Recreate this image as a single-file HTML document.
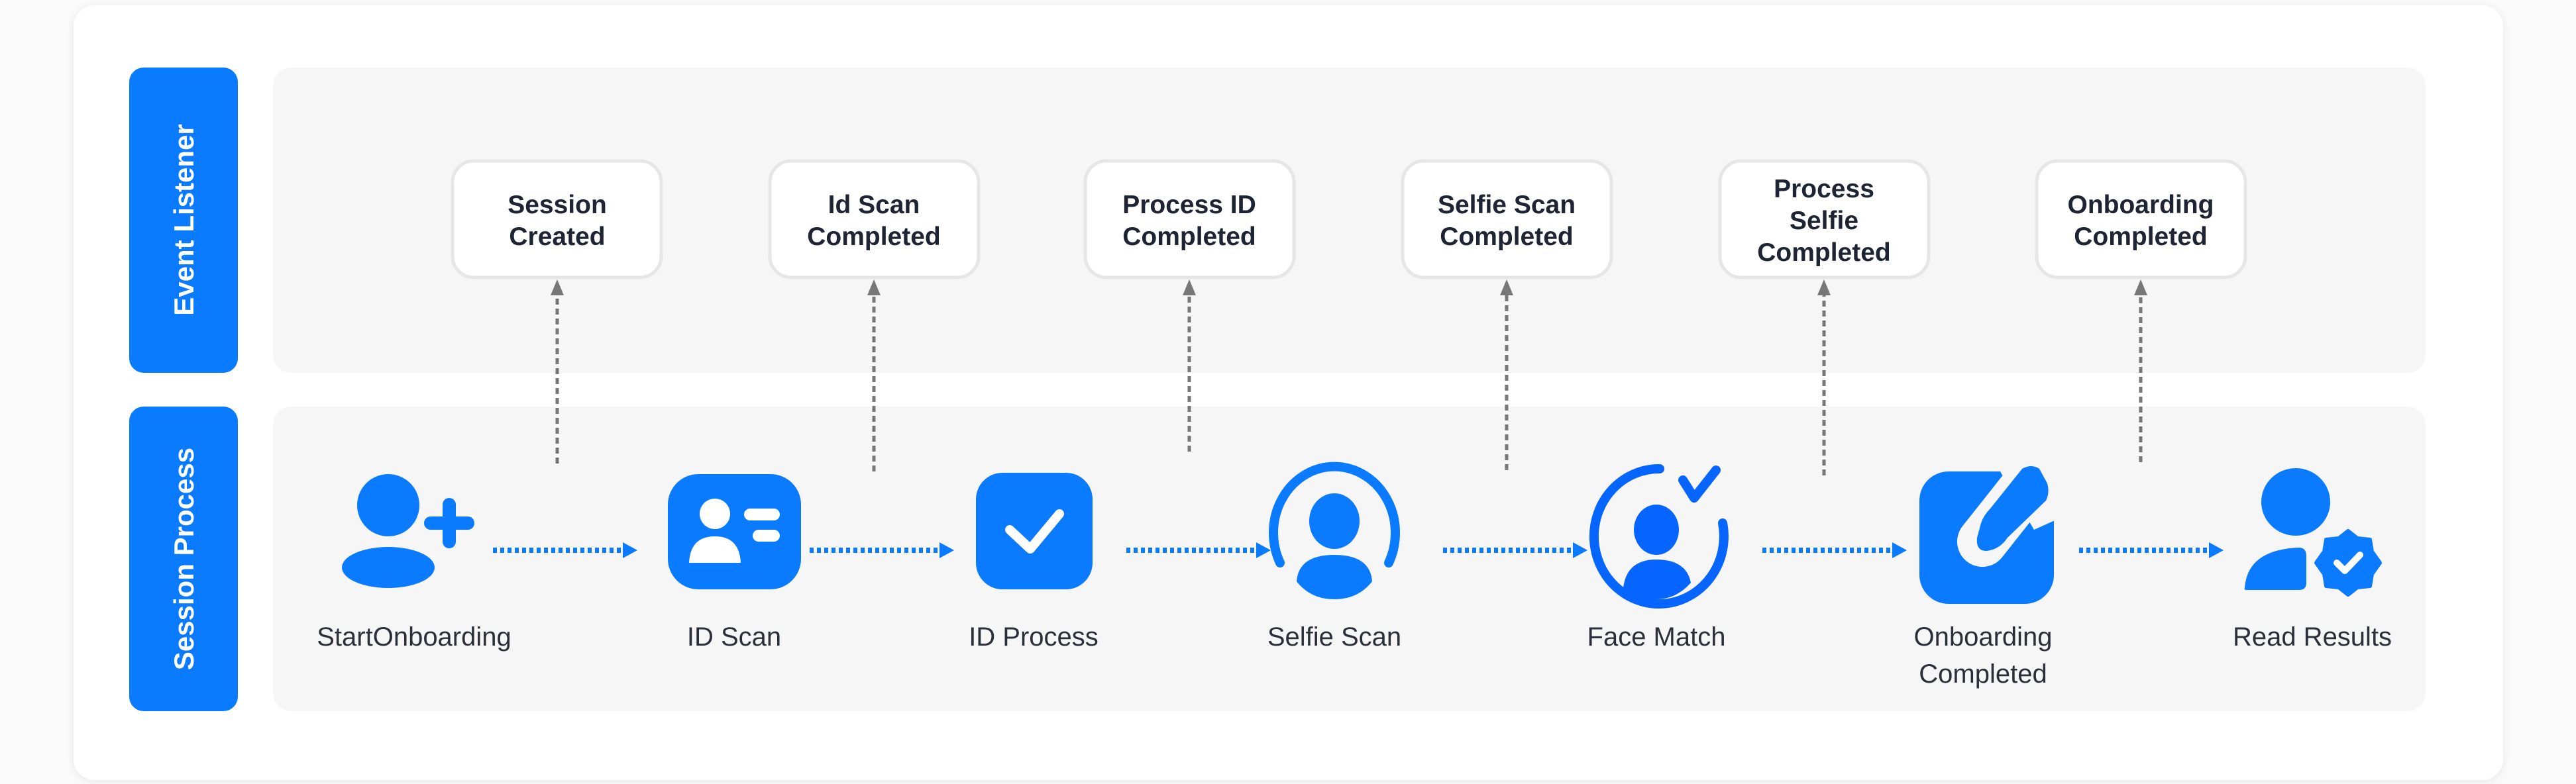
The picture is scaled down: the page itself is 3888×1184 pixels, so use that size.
<!DOCTYPE html>
<html><head><meta charset="utf-8"><style>
html,body{margin:0;padding:0;background:#fafafa;}
svg{display:block;}
</style></head><body>
<svg width="3888" height="1184" viewBox="0 0 3888 1184" xmlns="http://www.w3.org/2000/svg" font-family="Liberation Sans, sans-serif">
<defs>
<filter id="sh" x="-5%" y="-5%" width="110%" height="110%"><feDropShadow dx="0" dy="2" stdDeviation="6" flood-color="#000" flood-opacity="0.08"/></filter>
</defs>
<rect x="0" y="0" width="3888" height="1184" fill="#fafafa"/>
<rect x="111" y="8" width="3667" height="1170" rx="32" fill="#ffffff" filter="url(#sh)"/>
<rect x="195" y="102" width="164" height="461" rx="22" fill="#0a7aff"/>
<rect x="195" y="614" width="164" height="460" rx="22" fill="#0a7aff"/>
<text transform="translate(292,332) rotate(-90)" text-anchor="middle" fill="#fff" font-weight="bold" font-size="42">Event Listener</text>
<text transform="translate(292,844) rotate(-90)" text-anchor="middle" fill="#fff" font-weight="bold" font-size="42">Session Process</text>
<rect x="412" y="102" width="3249" height="461" rx="28" fill="#f6f6f6"/>
<rect x="412" y="614" width="3249" height="460" rx="28" fill="#f6f6f6"/>
<g fill="#fff" stroke="#e6e6e6" stroke-width="5">
<rect x="683" y="243" width="315" height="176" rx="32"/>
<rect x="1162" y="243" width="315" height="176" rx="32"/>
<rect x="1638" y="243" width="315" height="176" rx="32"/>
<rect x="2117" y="243" width="315" height="176" rx="32"/>
<rect x="2596" y="243" width="315" height="176" rx="32"/>
<rect x="3074" y="243" width="315" height="176" rx="32"/>
</g>
<g fill="#1e2433" font-weight="bold" font-size="39" text-anchor="middle">
<text x="841" y="322">Session</text><text x="841" y="370">Created</text>
<text x="1319" y="322">Id Scan</text><text x="1319" y="370">Completed</text>
<text x="1795" y="322">Process ID</text><text x="1795" y="370">Completed</text>
<text x="2274" y="322">Selfie Scan</text><text x="2274" y="370">Completed</text>
<text x="2753" y="298">Process</text><text x="2753" y="346">Selfie</text><text x="2753" y="394">Completed</text>
<text x="3231" y="322">Onboarding</text><text x="3231" y="370">Completed</text>
</g>
<g stroke="#777" stroke-width="5" stroke-dasharray="9 6">
<line x1="841" y1="700" x2="841" y2="445"/>
<line x1="1319" y1="712" x2="1319" y2="445"/>
<line x1="1795" y1="682" x2="1795" y2="445"/>
<line x1="2274" y1="710" x2="2274" y2="445"/>
<line x1="2753" y1="718" x2="2753" y2="445"/>
<line x1="3231" y1="698" x2="3231" y2="445"/>
</g>
<g fill="#777">
<polygon points="841,422 831,446 851,446"/>
<polygon points="1319,422 1309,446 1329,446"/>
<polygon points="1795,422 1785,446 1805,446"/>
<polygon points="2274,422 2264,446 2284,446"/>
<polygon points="2753,422 2743,446 2763,446"/>
<polygon points="3231,422 3221,446 3241,446"/>
</g>
<g stroke="#0a7aff" stroke-width="8" stroke-dasharray="6 5">
<line x1="744" y1="831" x2="940" y2="831"/>
<line x1="1222" y1="831" x2="1418" y2="831"/>
<line x1="1700" y1="831" x2="1896" y2="831"/>
<line x1="2178" y1="831" x2="2374" y2="831"/>
<line x1="2660" y1="831" x2="2856" y2="831"/>
<line x1="3138" y1="831" x2="3334" y2="831"/>
</g>
<g fill="#0a7aff">
<polygon points="940,819 962,831 940,843"/>
<polygon points="1418,819 1440,831 1418,843"/>
<polygon points="1896,819 1918,831 1896,843"/>
<polygon points="2374,819 2396,831 2374,843"/>
<polygon points="2856,819 2878,831 2856,843"/>
<polygon points="3334,819 3356,831 3334,843"/>
</g>
<g fill="#0a7aff">
<circle cx="586" cy="763" r="47"/>
<ellipse cx="586" cy="857" rx="70" ry="31"/>
<line x1="678" y1="762" x2="678" y2="818" stroke="#0a7aff" stroke-width="20" stroke-linecap="round"/>
<line x1="650" y1="790" x2="706" y2="790" stroke="#0a7aff" stroke-width="20" stroke-linecap="round"/>
<rect x="1008" y="716" width="201" height="174" rx="46"/>
<rect x="1473" y="714" width="176" height="176" rx="40"/>
<rect x="2897" y="712" width="203" height="200" rx="44"/>
</g>
<g fill="#fff">
<circle cx="1079" cy="776" r="23"/>
<path d="M1040 850 Q1042 810 1079 810 Q1116 810 1118 850 Z"/>
<rect x="1123" y="768" width="54" height="18" rx="9"/>
<rect x="1136" y="800" width="41" height="18" rx="9"/>
</g>
<polyline points="1524,800 1555,829 1599,776" fill="none" stroke="#fff" stroke-width="14" stroke-linecap="round" stroke-linejoin="round"/>
<path d="M1932 850 A92 100 0 1 1 2096 850" fill="none" stroke="#0a7aff" stroke-width="14" stroke-linecap="round"/>
<ellipse cx="2014" cy="787" rx="38" ry="42" fill="#0a7aff"/>
<path d="M1957 878 Q1960 838 2014 838 Q2068 838 2071 878 Q2050 905 2014 905 Q1978 905 1957 878 Z" fill="#0a7aff"/>
<path d="M2505 708 A98 102 0 1 0 2600 790" fill="none" stroke="#0665ff" stroke-width="14" stroke-linecap="round"/>
<polyline points="2540,725 2557,752 2590,710" fill="none" stroke="#0665ff" stroke-width="14" stroke-linecap="round" stroke-linejoin="round"/>
<ellipse cx="2500" cy="800" rx="34" ry="38" fill="#0665ff"/>
<path d="M2450 888 Q2455 845 2500 845 Q2545 845 2552 880 Q2530 905 2500 905 Q2470 905 2450 888 Z" fill="#0665ff"/>
<!-- pencil: cut corner + gap + pencil -->
<polygon points="3012,700 3110,700 3110,782 3070,800" fill="#f6f6f6"/>
<line x1="3068" y1="722" x2="2992" y2="818" stroke="#f6f6f6" stroke-width="76" stroke-linecap="round"/>
<path d="M3052 708 Q3066 700 3078 708 L3090 730 Q3094 744 3088 756 L3030 812 Q3018 830 2998 832 Q2982 832 2984 812 L2990 790 Q2994 778 3004 768 Z" fill="#0a7aff"/>
<ellipse cx="3465" cy="758" rx="52" ry="51" fill="#0a7aff"/>
<path d="M3388 888 Q3392 830 3470 827 Q3481 827 3481 840 L3481 880 Q3481 891 3470 891 L3392 891 Q3386 891 3388 888 Z" fill="#0a7aff"/>
<g transform="translate(3544,850)">
<path d="M0,-48 L14,-37 L33,-35 L36,-17 L48,0 L36,17 L33,35 L14,37 L0,48 L-14,37 L-33,35 L-36,17 L-48,0 L-36,-17 L-33,-35 L-14,-37 Z" fill="#0a7aff" stroke="#0a7aff" stroke-width="6" stroke-linejoin="round"/>
<polyline points="-17,0 -5,12 18,-12" fill="none" stroke="#fff" stroke-width="10" stroke-linecap="round" stroke-linejoin="round"/>
</g>
<g fill="#2b2f3a" font-size="40" text-anchor="middle">
<text x="625" y="975">StartOnboarding</text>
<text x="1108" y="975">ID Scan</text>
<text x="1560" y="975">ID Process</text>
<text x="2014" y="975">Selfie Scan</text>
<text x="2500" y="975">Face Match</text>
<text x="2993" y="975">Onboarding</text>
<text x="2993" y="1031">Completed</text>
<text x="3490" y="975">Read Results</text>
</g>
</svg>
</body></html>
